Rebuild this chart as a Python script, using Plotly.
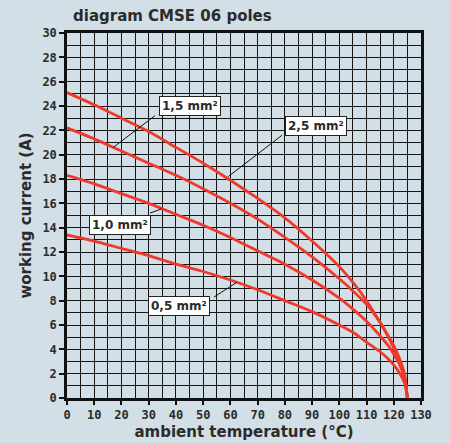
import plotly.graph_objects as go

temps = [0, 10, 20, 30, 40, 50, 60, 70, 80, 90, 100, 105, 110, 115, 118, 120, 122, 124, 125]
i_25 = [25.1, 24.1, 23.0, 21.9, 20.6, 19.3, 17.9, 16.4, 14.8, 12.9, 10.8, 9.5, 8.0, 6.2, 5.0, 4.1, 3.1, 1.7, 0]
i_15 = [22.2, 21.3, 20.3, 19.3, 18.3, 17.2, 16.0, 14.7, 13.2, 11.6, 9.8, 8.8, 7.7, 6.2, 5.1, 4.3, 3.3, 1.9, 0]
i_10 = [18.3, 17.6, 16.8, 16.0, 15.1, 14.2, 13.2, 12.1, 11.0, 9.7, 8.2, 7.3, 6.3, 5.1, 4.3, 3.6, 2.8, 1.6, 0]
i_05 = [13.4, 12.9, 12.3, 11.7, 11.0, 10.4, 9.7, 8.9, 8.0, 7.1, 6.0, 5.4, 4.6, 3.8, 3.2, 2.7, 2.1, 1.2, 0]

labels = ["2,5 mm²", "1,5 mm²", "1,0 mm²", "0,5 mm²"]
label_pos = [(91.3, 22.35), (45.2, 24.0), (19.5, 14.25), (41.1, 7.6)]
leaders = [((79.0, 21.6), (59.2, 18.2)), ((32.3, 23.2), (17.0, 20.6)),
           ((30.5, 15.2), (34.8, 15.55)), ((54.0, 8.3), (62.3, 9.5))]

BG = "#d2dfe6"
RED = "#f0382b"
TXT = "#2b2b2b"
GRID = "#161616"

fig = go.Figure()
for ys in [i_25, i_15, i_10, i_05]:
    fig.add_trace(go.Scatter(x=temps, y=ys, mode="lines", line=dict(color=RED, width=2.8, shape="spline", smoothing=0.6),
                             showlegend=False, hoverinfo="skip"))

for (x0, y0), (x1, y1) in leaders:
    fig.add_shape(type="line", x0=x0, y0=y0, x1=x1, y1=y1, line=dict(color="#111", width=1))

for txt, (lx, ly) in zip(labels, label_pos):
    fig.add_annotation(x=lx, y=ly, text="<b>" + txt + "</b>", showarrow=False,
                       font=dict(family="DejaVu Sans", size=12, color=TXT),
                       bgcolor="white", bordercolor="#222", borderwidth=1, borderpad=2)

fig.update_layout(
    width=450, height=443,
    margin=dict(l=67, r=29, t=33, b=45, autoexpand=False),
    paper_bgcolor=BG, plot_bgcolor=BG,
    title=dict(text="<b>diagram CMSE 06 poles</b>", x=73/450, xanchor="left", y=1 - 16/443, yanchor="middle",
               font=dict(family="DejaVu Sans", size=15, color=TXT)),
    xaxis=dict(range=[0, 130], dtick=10, tick0=0, showgrid=True, gridcolor=GRID, gridwidth=1.2,
               minor=dict(dtick=5, showgrid=True, gridcolor=GRID, gridwidth=1.2),
               ticks="outside", ticklen=4, tickcolor="#111", tickwidth=1.5, automargin=False,
               showline=True, linecolor="#111", linewidth=2.5, mirror=True, zeroline=False,
               tickfont=dict(family="DejaVu Sans Mono", size=12, color=TXT),
               title=dict(text="<b>ambient temperature (°C)</b>", standoff=6,
                          font=dict(family="DejaVu Sans", size=15, color=TXT))),
    yaxis=dict(range=[0, 30], dtick=2, tick0=0, showgrid=True, gridcolor=GRID, gridwidth=1.2,
               minor=dict(dtick=1, showgrid=True, gridcolor=GRID, gridwidth=1.2),
               ticks="outside", ticklen=5, tickcolor="#111", tickwidth=1.5, automargin=False,
               showline=True, linecolor="#111", linewidth=2.5, mirror=True, zeroline=False,
               tickfont=dict(family="DejaVu Sans Mono", size=12, color=TXT),
               title=dict(text="<b>working current (A)</b>", standoff=8,
                          font=dict(family="DejaVu Sans", size=15, color=TXT))),
)
fig.update_xaxes(tickprefix="<b>", ticksuffix="</b>")
fig.update_yaxes(tickprefix="<b>", ticksuffix="</b>")

fig.write_html("out.html", config={"displayModeBar": False},
               post_script="document.body.style.margin='0';document.body.style.background='" + BG + "';")
